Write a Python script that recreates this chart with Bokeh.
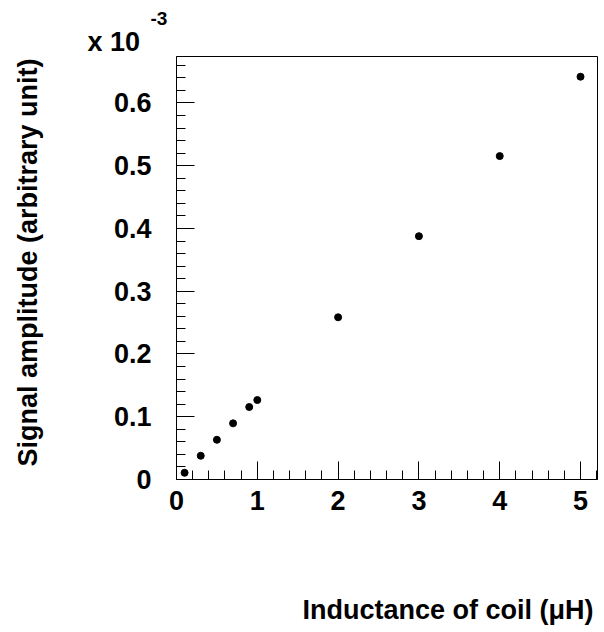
from bokeh.plotting import figure
from bokeh.models import Range1d, FixedTicker, Title
from bokeh.embed import file_html
from bokeh.resources import INLINE

# Data (signal amplitude in units of 1e-3)
inductance_uH = [0.1, 0.3, 0.5, 0.7, 0.9, 1.0, 2.0, 3.0, 4.0, 5.0]
amplitude_e3 = [0.0107, 0.0378, 0.0633, 0.0895, 0.1155, 0.1266, 0.2585, 0.3877, 0.5153, 0.6418]

x_ticks = [0, 1, 2, 3, 4, 5]
x_tick_labels = ["0", "1", "2", "3", "4", "5"]
y_ticks = [0.0, 0.1, 0.2, 0.3, 0.4, 0.5, 0.6]
y_tick_labels = ["0", "0.1", "0.2", "0.3", "0.4", "0.5", "0.6"]

x_title = "Inductance of coil (\u03bcH)"
y_title = "Signal amplitude (arbitrary unit)"
exp_base = "x 10"
exp_power = "-3"

FONT = "Liberation Sans"
FS = "27px"

p = figure(width=604, height=632, output_backend="svg", toolbar_location=None,
           x_range=Range1d(0, 5.21), y_range=Range1d(0, 0.674),
           min_border_left=176, min_border_right=7, min_border_top=56, min_border_bottom=153)
p.background_fill_color = "white"
p.border_fill_color = "white"
p.outline_line_color = "black"
p.outline_line_width = 1
p.xgrid.visible = False
p.ygrid.visible = False

x_minor = [round(i * 0.2, 2) for i in range(0, 27) if round(i * 0.2, 2) <= 5.21]
y_minor = [round(i * 0.02, 3) for i in range(0, 34) if round(i * 0.02, 3) <= 0.674]

p.xaxis.ticker = FixedTicker(ticks=x_ticks, minor_ticks=x_minor)
p.yaxis.ticker = FixedTicker(ticks=y_ticks, minor_ticks=y_minor)
p.xaxis.major_label_overrides = {t: s for t, s in zip(x_ticks, x_tick_labels)}
p.yaxis.major_label_overrides = {t: s for t, s in zip(y_ticks, y_tick_labels)}

for ax in (p.xaxis[0], p.yaxis[0]):
    ax.axis_line_color = "black"
    ax.major_tick_line_color = "black"
    ax.minor_tick_line_color = "black"
    ax.major_tick_in = 18
    ax.major_tick_out = 0
    ax.minor_tick_in = 9
    ax.minor_tick_out = 0
    ax.major_label_text_font = FONT
    ax.major_label_text_font_style = "bold"
    ax.major_label_text_font_size = FS
    ax.major_label_text_color = "black"

p.xaxis.major_label_standoff = 11
p.yaxis.major_label_standoff = 25

p.scatter(inductance_uH, amplitude_e3, size=7, color="black", marker="circle")

title_style = dict(text_font=FONT, text_font_style="bold", text_color="black")

# invisible spacers between the axes and their titles
p.add_layout(Title(text=" ", standoff=48, text_font_size=FS, **title_style), "below")
p.add_layout(Title(text=" ", standoff=36, text_font_size=FS, **title_style), "left")

xt = Title(text=x_title, align="right", offset=4, standoff=0,
           text_font_size=FS, **title_style)
yt = Title(text=y_title, align="right", offset=2, standoff=0,
           text_font_size=FS, **title_style)
p.add_layout(xt, "below")
p.add_layout(yt, "left")

t1 = Title(text=exp_base, align="left", offset=-89, standoff=0,
           text_font_size=FS, **title_style)
t2 = Title(text=exp_power, align="left", offset=-26, standoff=0,
           text_font_size="19px", **title_style)
p.add_layout(t1, "above")
p.add_layout(t2, "above")

open("out.html", "w").write(file_html(p, INLINE))
